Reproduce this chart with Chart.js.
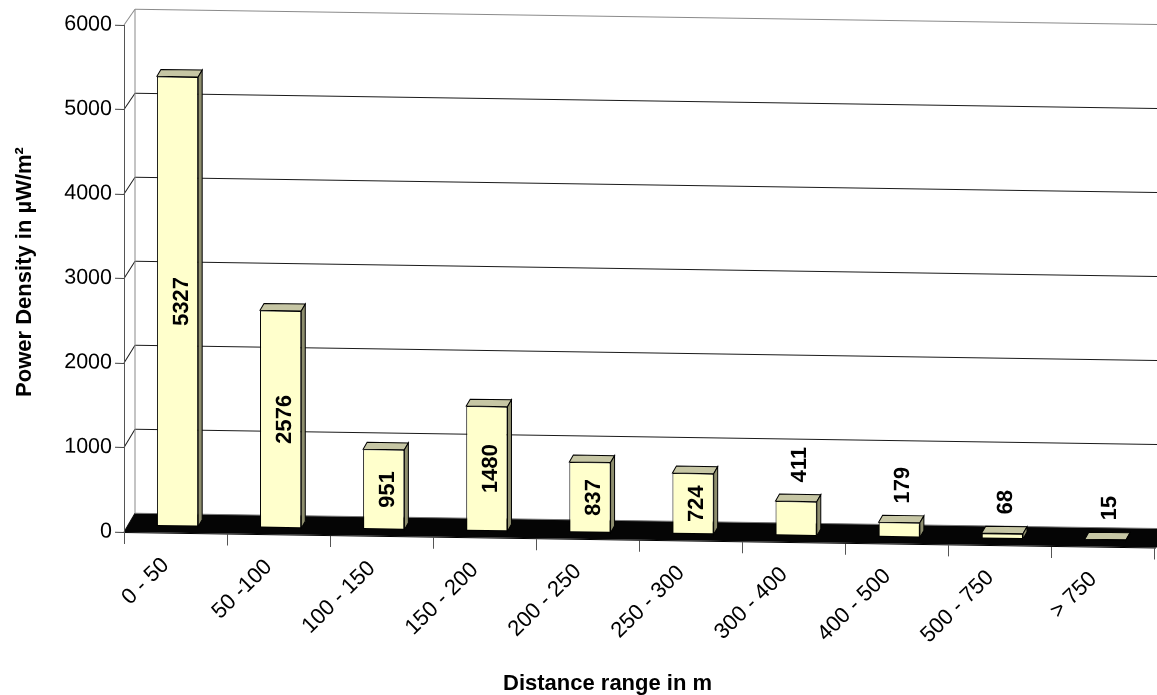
<!DOCTYPE html>
<html>
<head>
<meta charset="utf-8">
<title>Power Density by Distance Range</title>
<script src="https://cdn.jsdelivr.net/npm/chart.js@4.4.1/dist/chart.umd.min.js"></script>
<style>
  html, body { margin: 0; padding: 0; background: #ffffff; }
  #wrap { width: 1157px; height: 695px; }
  canvas { display: block; }
</style>
</head>
<body>
<div id="wrap"><canvas id="chart" width="1157" height="695"></canvas></div>
<script>
// ---- data ----
const categories = ['0 - 50', '50 -100', '100 - 150', '150 - 200', '200 - 250',
                    '250 - 300', '300 - 400', '400 - 500', '500 - 750', '> 750'];
const powerDensity = [5327, 2576, 951, 1480, 837, 724, 411, 179, 68, 15];
const yTicks = [0, 1000, 2000, 3000, 4000, 5000, 6000];
const xTitle = 'Distance range in m';
const yTitle = 'Power Density in µW/m²';

// ---- look ----
const FONT = '"Liberation Sans", Arial, Helvetica, sans-serif';
const SHEAR = 0.015;            // the whole plot drops slightly to the right
const WALL = { dx: 11, dyBottom: -19, dyTop: -16 };   // depth of back wall
const BAR_SHIFT = { dx: 2, dy: -6 };                  // bars stand inside the floor
const BAR_DEPTH = { dx: 4, dy: -7 };
const FRONT_COLOR = '#FFFFCC';
const TOP_COLOR = '#C6C6A4';
const SIDE_COLOR = '#8E8E6E';
const LABEL_DX = 4;

const scene3d = {
  id: 'scene3d',
  beforeDraw(chart) {
    const { ctx, chartArea: a, scales: { y } } = chart;
    ctx.save();
    ctx.transform(1, SHEAR, 0, 1, 0, -SHEAR * a.left);

    const backX = a.left + WALL.dx;
    const farX = chart.width + 80;
    const backY = v => y.getPixelForValue(v) + WALL.dyBottom +
      (WALL.dyTop - WALL.dyBottom) * (v / y.max);

    ctx.lineWidth = 1;
    // back wall grid lines and left wall diagonals
    yTicks.forEach(v => {
      const col = v === y.max ? '#8a8a8a' : '#1a1a1a';
      ctx.strokeStyle = col;
      if (v > 0) {
        ctx.beginPath();
        ctx.moveTo(backX, backY(v));
        ctx.lineTo(farX, backY(v));
        ctx.stroke();
      }
      ctx.beginPath();
      ctx.moveTo(a.left, y.getPixelForValue(v));
      ctx.lineTo(backX, backY(v));
      ctx.stroke();
    });
    // back edge of the left wall
    ctx.strokeStyle = '#8a8a8a';
    ctx.beginPath();
    ctx.moveTo(backX, backY(y.max));
    ctx.lineTo(backX, backY(0));
    ctx.stroke();

    // floor
    const y0 = y.getPixelForValue(0);
    ctx.fillStyle = '#050505';
    ctx.beginPath();
    ctx.moveTo(a.left, y0);
    ctx.lineTo(farX, y0);
    ctx.lineTo(farX, backY(0));
    ctx.lineTo(backX, backY(0));
    ctx.closePath();
    ctx.fill();
    ctx.strokeStyle = '#777';
    ctx.beginPath();
    ctx.moveTo(backX, backY(0));
    ctx.lineTo(farX, backY(0));
    ctx.stroke();
  },
  beforeDatasetsDraw(chart) {
    chart.ctx.save();
    chart.ctx.translate(BAR_SHIFT.dx, BAR_SHIFT.dy);
  },
  afterDatasetsDraw(chart) {
    const ctx = chart.ctx;
    const meta = chart.getDatasetMeta(0);
    const ds = chart.data.datasets[0].data;
    ctx.lineWidth = 1;
    ctx.strokeStyle = '#000';
    meta.data.forEach((bar, i) => {
      const { x, y: top, base, width } = bar.getProps(['x', 'y', 'base', 'width'], true);
      const L = x - width / 2, R = x + width / 2;
      const dx = BAR_DEPTH.dx, dy = BAR_DEPTH.dy;
      // top face
      ctx.beginPath();
      ctx.moveTo(L, top);
      ctx.lineTo(L + dx, top + dy);
      ctx.lineTo(R + dx, top + dy);
      ctx.lineTo(R, top);
      ctx.closePath();
      ctx.fillStyle = TOP_COLOR;
      ctx.fill();
      ctx.stroke();
      // right side face
      ctx.beginPath();
      ctx.moveTo(R, top);
      ctx.lineTo(R + dx, top + dy);
      ctx.lineTo(R + dx, base + dy);
      ctx.lineTo(R, base);
      ctx.closePath();
      ctx.fillStyle = SIDE_COLOR;
      ctx.fill();
      ctx.stroke();

      // value label, vertical
      const text = String(ds[i]);
      ctx.font = 'bold 22px ' + FONT;
      const tw = ctx.measureText(text).width;
      const h = base - top;
      let cy;
      if (h > tw + 14) cy = (top + base) / 2;
      else cy = top + dy - 12 - tw / 2;
      ctx.save();
      ctx.translate(x + LABEL_DX, cy);
      ctx.rotate(-Math.PI / 2);
      ctx.fillStyle = '#000';
      ctx.textAlign = 'center';
      ctx.textBaseline = 'middle';
      ctx.fillText(text, 0, 0);
      ctx.restore();
    });
    ctx.restore();
  },
  afterDraw(chart) {
    const ctx = chart.ctx;
    ctx.restore();
    // axis titles
    ctx.save();
    ctx.fillStyle = '#000';
    ctx.font = 'bold 22px ' + FONT;
    ctx.textBaseline = 'alphabetic';
    ctx.textAlign = 'left';
    ctx.fillText(xTitle, 503, 690);
    ctx.translate(31, 272);
    ctx.rotate(-Math.PI / 2);
    ctx.textAlign = 'center';
    ctx.fillText(yTitle, 0, 0);
    ctx.restore();
  }
};

new Chart(document.getElementById('chart'), {
  type: 'bar',
  data: {
    labels: categories,
    datasets: [{
      data: powerDensity,
      backgroundColor: FRONT_COLOR,
      borderColor: '#000',
      borderWidth: 1,
      borderSkipped: false,
      barPercentage: 0.4,
      categoryPercentage: 1.0,
      clip: false
    }]
  },
  options: {
    responsive: false,
    animation: false,
    events: [],
    layout: { padding: { top: 25, right: 2, left: 0, bottom: 0 } },
    plugins: { legend: { display: false }, tooltip: { enabled: false } },
    scales: {
      x: {
        offset: true,
        grid: { offset: true, drawOnChartArea: false, drawTicks: true, tickLength: 12, color: '#555' },
        border: { display: true, color: '#000' },
        ticks: {
          autoSkip: false, minRotation: 45, maxRotation: 45, padding: 8, labelOffset: -10,
          color: '#000', font: { family: FONT, size: 22 }
        },
        afterFit: s => { s.height = 163; }
      },
      y: {
        min: 0,
        max: 6000,
        afterBuildTicks: s => { s.ticks = yTicks.map(v => ({ value: v })); },
        grid: { drawOnChartArea: false, drawTicks: true, tickLength: 9, color: '#444' },
        border: { display: true, color: '#555' },
        ticks: {
          padding: 3, color: '#000', font: { family: FONT, size: 21.5 },
          callback: v => String(v)
        },
        afterFit: s => { s.width = 124; }
      }
    }
  },
  plugins: [scene3d]
});
</script>
</body>
</html>
